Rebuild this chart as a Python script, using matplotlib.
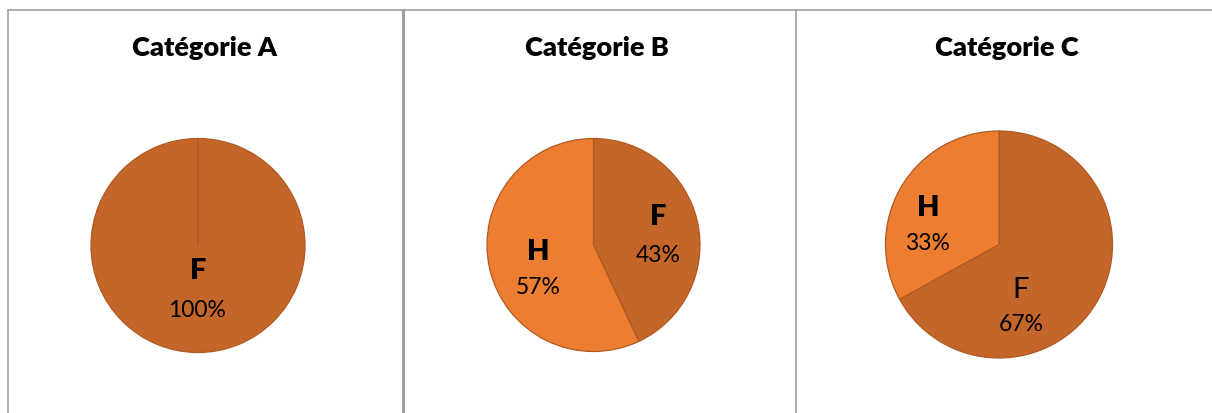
import matplotlib
matplotlib.use("Agg")
import matplotlib.pyplot as plt
from matplotlib.lines import Line2D

# ---- data ----
categories = ["Catégorie A", "Catégorie B", "Catégorie C"]
slice_names = ["F", "H"]
values_F = [100, 43, 67]
values_H = [0, 57, 33]

# ---- style / layout ----
colors = {"F": "#C4662A", "H": "#ED7D31"}
edge = "#B05A22"
W, H = 1212, 414
# pie center x, center y, radius (pixels)
pie_geom = [(198, 246.5, 107), (593.5, 246, 106.5), (999, 245.5, 113.5)]
title_x = [204, 597, 1007]
title_y = 48
# label positions (name, pct) in radius units relative to pie center
label_pos = [
    {"F": ((0.0, -0.23), (-0.01, -0.595))},
    {"F": ((0.606, 0.272), (0.606, -0.085)), "H": ((-0.521, -0.056), (-0.521, -0.394))},
    {"H": ((-0.626, 0.33), (-0.626, 0.022)), "F": ((0.194, -0.392), (0.194, -0.70))},
]
name_bold = [{"F": True}, {"F": True, "H": True}, {"F": False, "H": True}]

plt.rcParams["font.family"] = ["Lato", "DejaVu Sans"]
fig = plt.figure(figsize=(W / 100, H / 100), dpi=100)

for i, cat in enumerate(categories):
    cx, cy, r = pie_geom[i]
    ax = fig.add_axes([(cx - r) / W, (H - cy - r) / H, 2 * r / W, 2 * r / H])
    vals = [values_F[i], values_H[i]]
    ax.pie(vals, colors=[colors[n] for n in slice_names], startangle=90,
           counterclock=False, radius=1,
           wedgeprops=dict(edgecolor=edge, linewidth=0.9))
    ax.set_xlim(-1.0, 1.0)
    ax.set_ylim(-1.0, 1.0)
    ax.set_aspect("equal")
    ax.axis("off")
    total = sum(vals)
    for n, v in zip(slice_names, vals):
        if v == 0:
            continue
        (nx, ny), (px, py) = label_pos[i][n]
        ax.text(nx, ny, n, ha="center", va="center", fontsize=21,
                fontweight="heavy" if name_bold[i][n] else "normal", color="black")
        ax.text(px, py, f"{100 * v / total:.0f}%", ha="center", va="center",
                fontsize=16.5, color="black")
    fig.text(title_x[i] / W, 1 - title_y / H, cat, ha="center", va="center",
             fontsize=19.5, fontweight="heavy", color="black")

# frame lines
gray = "#A0A0A0"
def fline(x0, y0, x1, y1, lw=1.2):
    fig.add_artist(Line2D([x0 / W, x1 / W], [1 - y0 / H, 1 - y1 / H],
                          transform=fig.transFigure, color=gray, lw=lw))

fline(8, 11, W, 11)
fline(8, 11, 8, H)
fline(403, 11, 403, H, lw=2.2)
fline(796, 11, 796, H)

fig.savefig("out.png", dpi=100)
